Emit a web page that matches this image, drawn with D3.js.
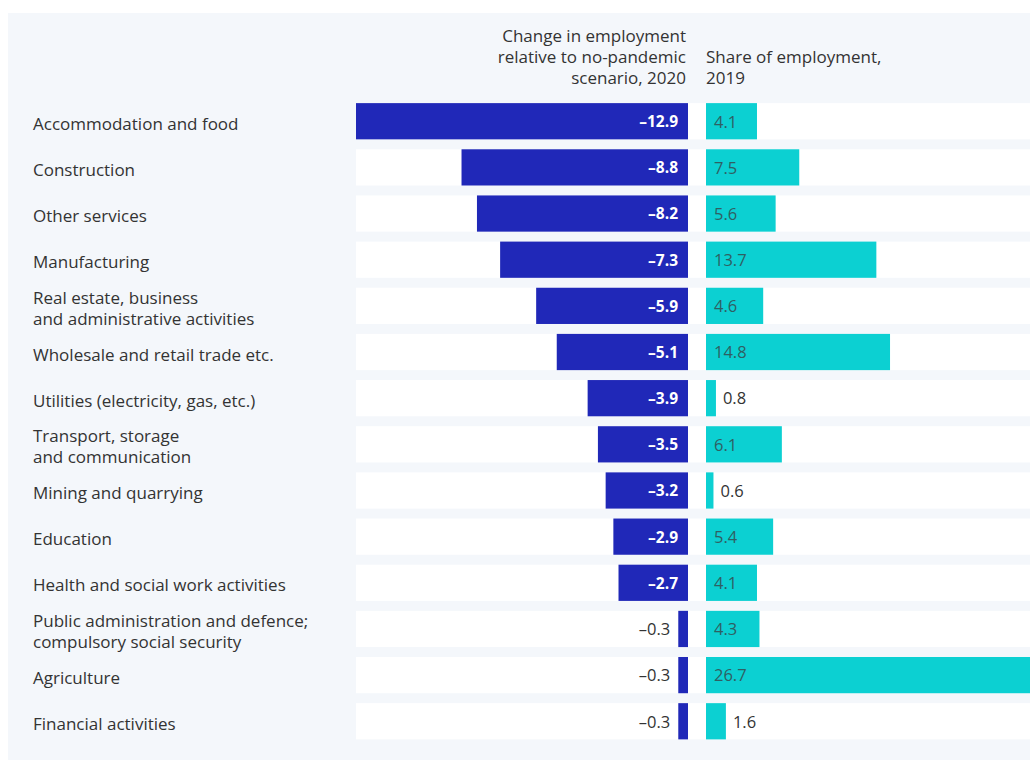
<!DOCTYPE html>
<html><head><meta charset="utf-8">
<script src="https://cdn.jsdelivr.net/npm/d3@7"></script>
<style>
html,body{margin:0;padding:0;background:#fff;}
svg{display:block;font-family:"Open Sans","Noto Sans",sans-serif;}
</style></head>
<body><svg id="c" width="1033" height="765"></svg>
<script>
const categories = [
  "Accommodation and food",
  "Construction",
  "Other services",
  "Manufacturing",
  "Real estate, business\nand administrative activities",
  "Wholesale and retail trade etc.",
  "Utilities (electricity, gas, etc.)",
  "Transport, storage\nand communication",
  "Mining and quarrying",
  "Education",
  "Health and social work activities",
  "Public administration and defence;\ncompulsory social security",
  "Agriculture",
  "Financial activities"
];
const changeValues = [-12.9, -8.8, -8.2, -7.3, -5.9, -5.1, -3.9, -3.5, -3.2, -2.9, -2.7, -0.3, -0.3, -0.3];
const shareValues = [4.1, 7.5, 5.6, 13.7, 4.6, 14.8, 0.8, 6.1, 0.6, 5.4, 4.1, 4.3, 26.7, 1.6];
const headerLeft = ["Change in employment", "relative to no-pandemic", "scenario, 2020"];
const headerRight = ["Share of employment,", "2019"];

const svg = d3.select("#c");
const blue = "#2028b8", teal = "#0cd0d2";

svg.append("rect").attr("x", 8).attr("y", 13).attr("width", 1022).attr("height", 747).attr("fill", "#f4f7fb");

const y = d3.scaleBand().domain(d3.range(categories.length)).range([98.5, 744]).paddingInner(0.215).paddingOuter(0.1);
const xL = d3.scaleLinear().domain([-12.9, 0]).range([356, 688]);
const xR = d3.scaleLinear().domain([0, 26.7]).range([706, 1038]);

const defs = svg.append("defs");
defs.append("clipPath").attr("id", "clip").append("rect").attr("x", 0).attr("y", 0).attr("width", 1030).attr("height", 765);

const g = svg.append("g").attr("clip-path", "url(#clip)");

// header
svg.selectAll("text.hl").data(headerLeft).join("text").attr("class", "hl")
  .attr("text-anchor", "end").attr("font-size", 17).attr("fill", "#333")
  .attr("x", 686).attr("y", (d, i) => 42 + i * 21).text(d => d);
svg.selectAll("text.hr").data(headerRight).join("text").attr("class", "hr")
  .attr("text-anchor", "start").attr("font-size", 17).attr("fill", "#333")
  .attr("x", 706).attr("y", (d, i) => 63 + i * 21).text(d => d);

const rows = g.selectAll("g.row").data(categories).join("g").attr("class", "row");

// white row strips
rows.append("rect").attr("x", 356).attr("width", 1030 - 356)
  .attr("y", (d, i) => y(i)).attr("height", y.bandwidth()).attr("fill", "#fff");

rows.append("rect").attr("fill", blue)
  .attr("x", (d, i) => xL(changeValues[i]) - (changeValues[i] > -1 ? 2 : 0))
  .attr("width", (d, i) => xL(0) - xL(changeValues[i]) + (changeValues[i] > -1 ? 2 : 0))
  .attr("y", (d, i) => y(i)).attr("height", y.bandwidth());

rows.append("rect").attr("fill", teal)
  .attr("x", xR(0)).attr("width", (d, i) => xR(shareValues[i]) - xR(0))
  .attr("y", (d, i) => y(i)).attr("height", y.bandwidth());

const fmt = v => (v < 0 ? "\u2013" : "") + Math.abs(v).toFixed(1);

// left value labels
rows.append("text")
  .attr("text-anchor", "end")
  .attr("dy", "0.38em")
  .attr("y", (d, i) => y(i) + y.bandwidth() / 2)
  .each(function (d, i) {
    const v = changeValues[i];
    const w = xL(0) - xL(v);
    const t = d3.select(this);
    if (w > 50) {
      t.attr("x", xL(0) - 10).attr("fill", "#fff").attr("font-weight", 700).attr("font-size", 15.5).text(fmt(v));
    } else {
      t.attr("x", xL(v) - 10).attr("fill", "#333").attr("font-size", 16.5).text(fmt(v));
    }
  });

// right value labels
rows.append("text")
  .attr("text-anchor", "start").attr("font-size", 16.5)
  .attr("dy", "0.38em")
  .attr("y", (d, i) => y(i) + y.bandwidth() / 2)
  .each(function (d, i) {
    const v = shareValues[i];
    const w = xR(v) - xR(0);
    const t = d3.select(this);
    if (w > 35) {
      t.attr("x", xR(0) + 8).attr("fill", "#2f5f63").text(v.toFixed(1));
    } else {
      t.attr("x", xR(v) + 7).attr("fill", "#333").text(v.toFixed(1));
    }
  });

// category labels
svg.selectAll("text.cat").data(categories).join("text").attr("class", "cat")
  .attr("font-size", 17).attr("fill", "#333")
  .each(function (d, i) {
    const lines = d.split("\n");
    const cy = y(i) + y.bandwidth() / 2;
    const t = d3.select(this);
    lines.forEach((l, k) => {
      t.append("tspan").attr("x", 33)
        .attr("y", cy + (k - (lines.length - 1) / 2) * 21)
        .attr("dy", "0.5em").text(l);
    });
  });
</script>
</body></html>
